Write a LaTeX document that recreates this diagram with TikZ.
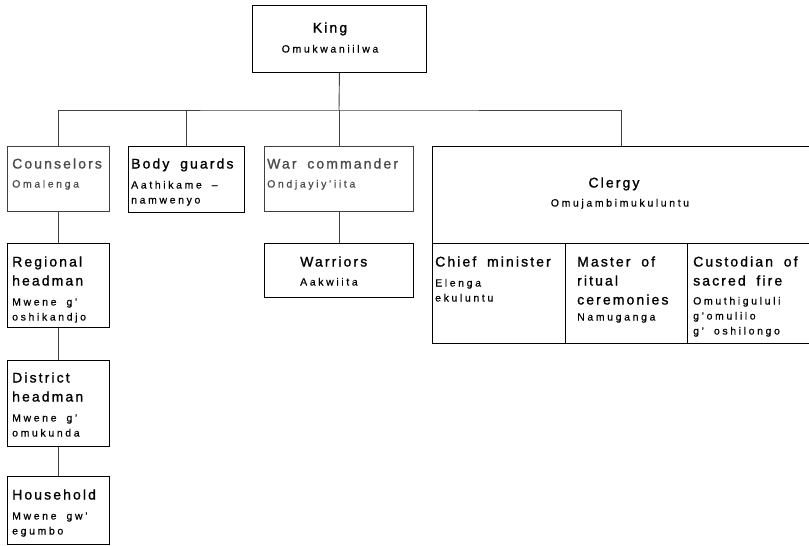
\documentclass[tikz,border=0pt]{standalone}
\usepackage{fontspec}
\setmainfont{Liberation Sans}
\newfontfamily\namefont[LetterSpace=15,WordSpace=1.8,FakeBold=1.2]{Liberation Sans}
\newfontfamily\localfont[LetterSpace=25,WordSpace=1.8,FakeBold=0.6]{Liberation Sans}

\tikzset{
  box/.style={draw, line width=0.9pt, anchor=north west, inner sep=0pt},
  title/.style={font=\namefont\fontsize{14}{19}\selectfont, align=left, inner sep=0pt, anchor=base west},
  local/.style={font=\localfont\fontsize{10.5}{15}\selectfont, align=left, inner sep=0pt, anchor=base west},
  link/.style={line width=0.9pt, black!75}
}

\begin{document}
\begin{tikzpicture}[x=1pt,y=-1pt]
    \useasboundingbox (0,0) rectangle (809,546);
    % boxes
    \node[box, minimum width=174, minimum height=67] (king) at (252,5) {};
    \node[box, minimum width=102, minimum height=65, black!75] (counsel) at (7,146) {};
    \node[box, minimum width=116, minimum height=66] (guards) at (128,146) {};
    \node[box, minimum width=149, minimum height=65, black!75] (warcmd) at (264,146) {};
    \node[box, minimum width=378, minimum height=197] (clergy) at (432,146) {};
    \node[box, minimum width=149, minimum height=54] (warriors) at (264,243) {};
    \node[box, minimum width=102, minimum height=84] (regional) at (7,243) {};
    \node[box, minimum width=102, minimum height=86] (district) at (7,360) {};
    \node[box, minimum width=102, minimum height=68] (household) at (7,476) {};
    \node[box, minimum width=133, minimum height=100] (chief) at (432,243) {};
    \node[box, minimum width=122, minimum height=100] (ritual) at (565,243) {};
    \node[box, minimum width=123, minimum height=100] (fire) at (687,243) {};

    % texts (multi-line nodes sit on their last baseline)
    \node[title, anchor=base] (kingname) at (330,32.5) {King};
    \node[local, anchor=base] (kinglocal) at (330,52.5) {Omukwaniilwa};
    \node[title, black!70] (counselname) at (12,168.5) {Counselors};
    \node[local, black!70] (counsellocal) at (12,187.5) {Omalenga};
    \node[title] (guardsname) at (131,168.5) {Body guards};
    \node[local] (guardslocal) at (131,203.5) {Aathikame –\\namwenyo};
    \node[title, black!70] (warcmdname) at (267,168.5) {War commander};
    \node[local, black!70] (warcmdlocal) at (267,187.5) {Ondjayiy’iita};
    \node[title, anchor=base] (clergyname) at (614,187.5) {Clergy};
    \node[local, anchor=base] (clergylocal) at (620,206.5) {Omujambimukuluntu};
    \node[title] (warriorsname) at (300,266.5) {Warriors};
    \node[local] (warriorslocal) at (300,285.5) {Aakwiita};
    \node[title] (regionalname) at (12,285.5) {Regional\\headman};
    \node[local] (regionallocal) at (12,320.5) {Mwene g’\\oshikandjo};
    \node[title] (districtname) at (12,401.5) {District\\headman};
    \node[local] (districtlocal) at (12,436.5) {Mwene g’\\omukunda};
    \node[title] (householdname) at (12,499.5) {Household};
    \node[local] (householdlocal) at (12,534.5) {Mwene gw’\\egumbo};
    \node[title] (chiefname) at (435,266.5) {Chief minister};
    \node[local] (chieflocal) at (435,301.5) {Elenga\\ekuluntu};
    \node[title] (ritualname) at (577,304.5) {Master of\\ritual\\ceremonies};
    \node[local] (rituallocal) at (577,320.5) {Namuganga};
    \node[title] (firename) at (693,285.5) {Custodian of\\sacred fire};
    \node[local] (firelocal) at (693,334.5) {Omuthigululi\\g’omulilo\\g’ oshilongo};

    % connectors
    \coordinate (bus) at (339,110);
    \draw[link] (king.south) -- (bus);
    \draw[link] (counsel.north) |- (bus) -| (clergy.north);
    \draw[link] (guards.north) -- (guards.north |- bus);
    \draw[link] (warcmd.north) -- (warcmd.north |- bus);
    \draw[link] (warcmd.south) -- (warriors.north);
    \draw[link] (counsel.south) -- (regional.north);
    \draw[link] (regional.south) -- (district.north);
    \draw[link] (district.south) -- (household.north);
\end{tikzpicture}
\end{document}
